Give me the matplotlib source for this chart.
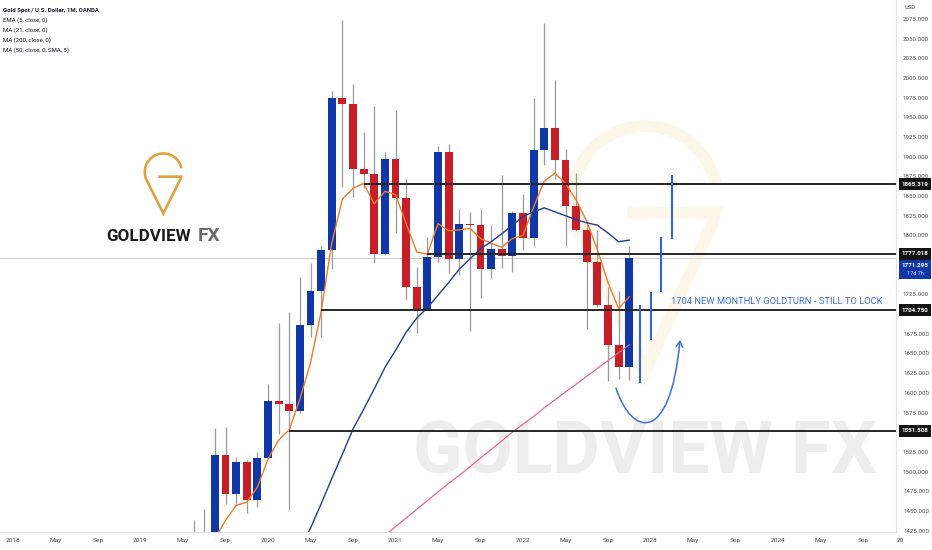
import matplotlib
matplotlib.use("Agg")
import matplotlib.pyplot as plt
import numpy as np
from matplotlib import font_manager
from matplotlib.path import Path
from matplotlib.patches import FancyArrowPatch, Rectangle, ArrowStyle


def month_seq(start, n):
    y, m = map(int, start.split("-"))
    out = []
    for _ in range(n):
        out.append(f"{y:04d}-{m:02d}")
        m += 1
        if m > 12:
            m = 1
            y += 1
    return out


def midx(s):
    y, m = map(int, s.split("-"))
    return (y - 2020) * 12 + (m - 1)


# ---------------- data ----------------
candle_months = month_seq("2019-06", 42)
opens = [1305, 1409, 1413, 1521, 1472, 1512, 1464,
         1517, 1589, 1586, 1577, 1686, 1730, 1781, 1975, 1967, 1885, 1878, 1776,
         1897, 1847, 1734, 1707, 1772, 1906, 1770, 1814, 1813, 1757, 1783, 1774,
         1828, 1797, 1908, 1936, 1896, 1837, 1807, 1766, 1711, 1661, 1633]
highs = [1439, 1452, 1555, 1557, 1518, 1515, 1525,
         1611, 1689, 1703, 1747, 1765, 1786, 1984, 2074, 1992, 1932, 1965, 1906,
         1959, 1872, 1760, 1798, 1913, 1916, 1833, 1830, 1834, 1813, 1877, 1831,
         1853, 1974, 2070, 1998, 1910, 1879, 1814, 1807, 1735, 1730, 1786]
lows = [1266, 1400, 1400, 1459, 1458, 1447, 1455,
        1517, 1548, 1451, 1574, 1671, 1671, 1757, 1862, 1849, 1860, 1765, 1775,
        1803, 1718, 1676, 1706, 1766, 1752, 1750, 1678, 1721, 1746, 1759, 1753,
        1781, 1786, 1890, 1872, 1787, 1805, 1681, 1709, 1615, 1617, 1616]
closes = [1409, 1413, 1521, 1472, 1512, 1464, 1517,
          1589, 1586, 1577, 1686, 1730, 1781, 1975, 1967, 1885, 1878, 1776, 1897,
          1847, 1734, 1707, 1772, 1906, 1770, 1814, 1813, 1757, 1783, 1774, 1828,
          1797, 1908, 1936, 1896, 1837, 1807, 1766, 1711, 1661, 1633, 1771]

ema5_months = month_seq("2019-07", 41)
ema5 = [1390, 1415, 1438, 1457, 1461, 1480,
        1516, 1540, 1553, 1592, 1638, 1703, 1790, 1846, 1860, 1866, 1840, 1856,
        1852, 1815, 1779, 1776, 1815, 1806, 1807, 1809, 1796, 1790, 1785, 1796,
        1800, 1836, 1869, 1879, 1866, 1845, 1818, 1782, 1740, 1707, 1722]

ma21_months = month_seq("2020-04", 32)
ma21 = [1403, 1428, 1459, 1491, 1522, 1554, 1579, 1605, 1632,
        1654, 1677, 1695, 1708, 1724, 1740, 1757, 1770, 1783, 1792, 1802, 1813,
        1824, 1830, 1835, 1830, 1825, 1820, 1816, 1813, 1803, 1792, 1794]

ma200_months = month_seq("2020-11", 25)
ma200 = [1408, 1419,
         1430, 1441, 1452, 1463, 1474, 1485, 1495, 1506, 1517, 1528, 1539, 1550,
         1560, 1570, 1581, 1591, 1601, 1611, 1621, 1631, 1641, 1651, 1661]

level_values = [1865.319, 1777.018, 1704.750, 1551.508]
level_from = ["2020-10", "2021-04", "2020-06", "2020-03"]
last_price = 1771.295
countdown = "17d 7h"

proj_months = ["2022-12", "2023-01", "2023-02", "2023-03"]
proj_low = [1612, 1667, 1728, 1796]
proj_high = [1712, 1728, 1798, 1877]

price_ticks = [1425, 1450, 1475, 1500, 1525, 1550, 1575, 1600, 1625, 1650,
               1675, 1700, 1725, 1750, 1775, 1800, 1825, 1850, 1875, 1900,
               1925, 1950, 1975, 2000, 2025, 2050, 2075]
hidden_ticks = [1550, 1700, 1750, 1775]          # covered by the price boxes
date_tick_months = []
date_tick_labels = []
for yr in range(2018, 2025):
    for mo, lab in ((1, str(yr)), (5, "May"), (9, "Sep")):
        date_tick_months.append(f"{yr}-{mo:02d}")
        date_tick_labels.append(lab)
cut_label = "2025"

legend_lines = ["Gold Spot / U.S. Dollar, 1M, OANDA", "EMA (5, close, 0)",
                "MA (21, close, 0)", "MA (200, close, 0)", "MA (50, close, 0, SMA, 5)"]
note_text = "1704 NEW MONTHLY GOLDTURN - STILL TO LOCK"
brand_main, brand_fx = "GOLDVIEW", "FX"
watermark = "GOLDVIEW FX"

# ---------------- styling / layout ----------------
names = {f.name for f in font_manager.fontManager.ttflist}
NARROW = "Liberation Sans Narrow" if "Liberation Sans Narrow" in names else "Roboto"
FAM = [NARROW, "DejaVu Sans"]
BOLDFAM = ["Roboto", "DejaVu Sans"]

BLUE = "#1037a8"
RED = "#c81e28"
W, H = 932, 550
PLOT_R, PLOT_B = 896, 532
X0, MPX = 268.0, 10.625
YREF_PX, YREF, PPX = 184.0, 1865.319, 1.2705


def px_m(x):
    return (x - X0) / MPX


def px_p(y):
    return YREF - (y - YREF_PX) * PPX


fig = plt.figure(figsize=(W / 100, H / 100), dpi=100)
fig.patch.set_facecolor("white")

bg = fig.add_axes([0, 0, 1, 1], zorder=0)
bg.set_xlim(0, W)
bg.set_ylim(H, 0)
bg.axis("off")

ax = fig.add_axes([0, (H - PLOT_B) / H, PLOT_R / W, PLOT_B / H], zorder=1)
ax.set_facecolor("none")
ax.set_xlim(px_m(0), px_m(PLOT_R))
ax.set_ylim(px_p(PLOT_B), px_p(0))

ov = fig.add_axes([0, 0, 1, 1], zorder=2)
ov.set_xlim(0, W)
ov.set_ylim(H, 0)
ov.axis("off")
ov.patch.set_visible(False)

# ---- candles ----
cx = np.array([midx(m) for m in candle_months])
o, h, l, c = (np.array(v, dtype=float) for v in (opens, highs, lows, closes))
cols = np.where(c >= o, BLUE, RED)
ax.vlines(cx, l, h, color="#9a9a9a", lw=0.9, zorder=2)
ax.bar(cx, np.maximum(np.abs(c - o), 1.5), bottom=np.minimum(o, c), width=0.75,
       color=cols, lw=0, zorder=3)

# ---- moving averages ----
ax.plot([midx(m) for m in ema5_months], ema5, color="#f07a2a", lw=1.0, zorder=4)
ax.plot([midx(m) for m in ma21_months], ma21, color="#223c94", lw=1.0, zorder=4)
ax.plot([midx(m) for m in ma200_months], ma200, color="#e8698e", lw=0.9, zorder=4)

# ---- levels ----
xmax = ax.get_xlim()[1]
ax.axhline(last_price, color="#cfcfcf", lw=0.7, zorder=1.5)
for v, s in zip(level_values, level_from):
    ax.hlines(v, midx(s), xmax, color="#262626", lw=1.4, zorder=5)

# ---- projection bars ----
ax.vlines([midx(m) for m in proj_months], proj_low, proj_high, color="#3264e1",
          lw=1.5, zorder=5)

# ---- curved arrow ----
verts = [(px_m(616), px_p(388)), (px_m(631), px_p(435)),
         (px_m(670), px_p(447)), (px_m(680), px_p(340))]
arrow = FancyArrowPatch(path=Path(verts, [Path.MOVETO, Path.CURVE4, Path.CURVE4, Path.CURVE4]),
                        arrowstyle=ArrowStyle("->", head_length=4, head_width=2.4),
                        mutation_scale=1, color="#3d6fd8", lw=1.1, zorder=6)
ax.add_patch(arrow)

note = ax.text(px_m(671), px_p(304), note_text, ha="left", va="baseline",
               color="#3c6ed7", fontsize=8, family=FAM, zorder=6)

# ---- axes ticks ----
ax.yaxis.tick_right()
ax.set_yticks(price_ticks)
ax.set_yticklabels(["" if v in hidden_ticks else f"{v:.3f}" for v in price_ticks],
                   family=FAM, fontsize=5.2, color="#4a4a4a", ha="center")
ax.tick_params(axis="y", length=0, pad=(916 - PLOT_R) * 0.72)
ax.set_xticks([midx(m) for m in date_tick_months])
ax.set_xticklabels(date_tick_labels, family=FAM, fontsize=5.4, color="#4a4a4a")
ax.tick_params(axis="x", length=0, pad=4.0)
for side in ("top", "left"):
    ax.spines[side].set_visible(False)
for side in ("bottom", "right"):
    ax.spines[side].set_color("#e0e3eb")
    ax.spines[side].set_linewidth(0.8)

t25 = ov.text(X0 + MPX * midx("2025-01") - 1.5, 541, cut_label, ha="center", va="center",
              family=FAM, fontsize=5.4, color="#4a4a4a", clip_on=True)
t25.set_clip_path(Rectangle((0, 530), 903, 20, transform=ov.transData))
usd = ov.text(905, 7.5, "USD", ha="left", va="center", family=FAM, fontsize=5.0,
              color="#4a4a4a")

# ---- price boxes on the scale ----
yt = ax.get_yaxis_transform()
bx0, bw = 899 / PLOT_R, 32 / PLOT_R
box_h = 12 * PPX
box_texts = []
for v in level_values:
    ax.add_patch(Rectangle((bx0, v - box_h / 2), bw, box_h, transform=yt,
                           facecolor="#131313", edgecolor="none", clip_on=False, zorder=10))
    box_texts.append(ax.text(bx0 + bw / 2, v, f"{v:.3f}", transform=yt, ha="center",
                             va="center", color="white", fontsize=5.2, family=FAM,
                             fontweight="bold", clip_on=False, zorder=11))
top_b, bot_b = px_p(260), px_p(279)
ax.add_patch(Rectangle((bx0, bot_b), bw, top_b - bot_b, transform=yt,
                       facecolor=BLUE, edgecolor="none", clip_on=False, zorder=10))
box_texts.append(ax.text(bx0 + bw / 2, px_p(265.5), f"{last_price:.3f}", transform=yt,
                         ha="center", va="center", color="white", fontsize=5.2,
                         family=FAM, fontweight="bold", clip_on=False, zorder=11))
cd = ax.text(bx0 + bw / 2, px_p(273.5), countdown, transform=yt, ha="center",
             va="center", color="#dfe6ff", fontsize=4.6, family=FAM,
             clip_on=False, zorder=11)

# ---- legend (top-left) ----
leg = []
for i, s in enumerate(legend_lines):
    leg.append(ov.text(3, 11.6 + 10 * i, s, ha="left", va="baseline", family=FAM,
                       fontsize=5, color="#131722",
                       fontweight="bold" if i == 0 else "normal"))


# ---- logos ----
def pin(axis, cx_, cy_, r, tip_y, bar_dy, bar_left, gap, lw, color, z):
    d = tip_y - cy_
    th = np.degrees(np.arccos(r / d))
    a_bar = -np.degrees(np.arcsin(bar_dy / r))
    a_r = -90 + th
    a_l = 180 + (90 - th)
    pts = [(bar_left, cy_ + bar_dy)]
    for a in np.linspace(a_bar, a_r, 10):
        pts.append((cx_ + r * np.cos(np.radians(a)), cy_ - r * np.sin(np.radians(a))))
    pts.append((cx_, tip_y))
    for a in np.linspace(a_l, gap, 80):
        pts.append((cx_ + r * np.cos(np.radians(a)), cy_ - r * np.sin(np.radians(a))))
    xs, ys = zip(*pts)
    axis.plot(xs, ys, color=color, lw=lw, solid_joinstyle="miter",
              solid_capstyle="butt", zorder=z)


pin(bg, 645, 198, 72, 372, 15, 627, 12, 8.5, "#fdf7ea", 1)
pin(ov, 163.3, 172, 18.5, 213.5, 4.7, 158.3, 12, 1.9, "#e2a13f", 3)
b1 = ov.text(106.7, 240.7, brand_main, ha="left", va="baseline", family=BOLDFAM,
             fontweight="bold", fontsize=14, color="#1a1a1a")
b2 = ov.text(197.3, 240.7, brand_fx, ha="left", va="baseline", family=BOLDFAM,
             fontweight="bold", fontsize=14, color="#6b6b6b")
wm = bg.text(413, 473, watermark, ha="left", va="baseline", family=BOLDFAM,
             fontweight="bold", fontsize=50, color="#ededed", zorder=2)


# ---- fit text widths ----
fig.canvas.draw()
rend = fig.canvas.get_renderer()


def scale_for(t, target):
    w = t.get_window_extent(rend).width
    return target / w if w > 0 else 1.0


ylabs = ax.get_yticklabels()
xlabs = ax.get_xticklabels()
s_y = scale_for(ylabs[-1], 25.5)
s_x = scale_for(xlabs[0], 14.5)
s_box = scale_for(box_texts[0], 27.0)
fits = [(leg[0], 96), (note, 210), (wm, 464), (b1, 85), (b2, 22.7)]
sizes = [(t, t.get_fontsize() * scale_for(t, tw)) for t, tw in fits]
for t, s in sizes:
    t.set_fontsize(s)
for t in leg[1:]:
    t.set_fontsize(leg[0].get_fontsize())
for t in ylabs:
    t.set_fontsize(t.get_fontsize() * s_y)
usd.set_fontsize(usd.get_fontsize() * s_y)
for t in xlabs:
    t.set_fontsize(t.get_fontsize() * s_x)
t25.set_fontsize(t25.get_fontsize() * s_x)
for t in box_texts:
    t.set_fontsize(t.get_fontsize() * s_box)
cd.set_fontsize(cd.get_fontsize() * s_box)

fig.savefig("out.png", dpi=100, facecolor="white")
